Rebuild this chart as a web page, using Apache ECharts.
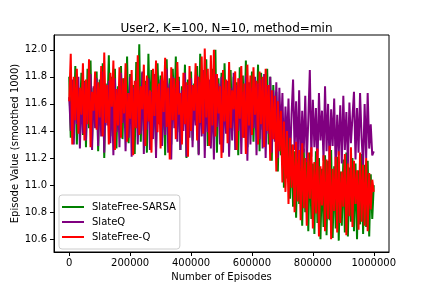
<!DOCTYPE html>
<html>
<head>
<meta charset="utf-8">
<script src="https://cdn.jsdelivr.net/npm/echarts@6/dist/echarts.min.js"></script>
<style>html,body{margin:0;padding:0;background:#fff;}#c{width:432px;height:288px;}</style>
</head>
<body>
<div id="c"></div>
<script>
// Episode grid: one sample every 5000 episodes, 0 .. 1000000
const STEP = 5000;
const seriesNames = ['SlateFree-SARSA', 'SlateQ', 'SlateFree-Q'];
const xTicks = [0, 200000, 400000, 600000, 800000, 1000000];
const yTicks = [10.6, 10.8, 11.0, 11.2, 11.4, 11.6, 11.8, 12.0];

const sarsa = [
11.80,11.35,11.74,11.46,11.88,11.30,11.70,11.52,11.83,11.37,
11.77,11.28,11.86,11.42,11.92,11.33,11.72,11.48,11.84,11.25,
11.78,11.40,11.90,11.20,11.75,11.51,11.96,11.36,11.80,11.45,
11.86,11.27,11.73,11.50,11.88,11.34,11.79,11.43,11.95,11.31,
11.82,11.54,11.74,11.23,11.91,11.47,12.04,11.32,11.83,11.40,
11.77,11.24,11.97,11.49,11.85,11.38,11.72,11.27,11.90,11.53,
11.81,11.35,11.76,11.22,11.93,11.44,11.79,11.30,11.86,11.50,
11.95,11.39,11.80,11.26,11.73,11.48,11.89,11.20,11.78,11.42,
11.84,11.33,11.75,11.52,11.88,11.23,11.97,11.45,11.82,11.36,
11.93,11.29,11.77,11.50,11.86,11.38,12.00,11.24,11.79,11.43,
11.83,11.31,11.90,11.47,11.74,11.26,11.85,11.40,11.80,11.52,
11.76,11.22,11.87,11.44,11.81,11.35,11.92,11.28,11.75,11.49,
11.84,11.32,11.78,11.46,11.89,11.25,11.83,11.41,11.76,11.36,
11.86,11.30,11.80,11.18,11.74,11.40,11.69,11.10,11.60,11.22,
11.48,10.98,11.38,11.05,11.42,10.90,11.30,10.84,11.25,10.76,
11.30,10.86,11.22,10.70,11.27,10.80,11.19,10.66,11.24,10.75,
11.16,10.64,11.25,10.72,11.20,10.60,11.12,10.69,11.22,10.63,
11.18,10.74,11.26,10.61,11.14,10.68,11.21,10.59,11.10,10.70,
11.19,10.65,11.24,10.62,11.13,10.73,11.20,10.66,11.16,10.60,
11.11,10.71,11.23,10.64,11.15,10.69,11.18,10.62,11.08,10.75,
11.00
];

const slateQ = [
11.65,11.40,11.78,11.30,11.72,11.45,11.80,11.27,11.70,11.38,
11.76,11.33,11.68,11.48,11.82,11.26,11.73,11.42,11.79,11.29,
11.70,11.36,11.84,11.24,11.74,11.44,11.77,11.31,11.69,11.22,
11.79,11.39,11.71,11.28,11.83,11.46,11.75,11.25,11.68,11.35,
11.80,11.21,11.72,11.43,11.77,11.30,11.70,11.38,11.84,11.23,
11.74,11.41,11.79,11.26,11.69,11.34,11.82,11.20,11.73,11.45,
11.78,11.29,11.71,11.37,11.86,11.24,11.75,11.19,11.80,11.42,
11.72,11.32,11.77,11.26,11.70,11.40,11.83,11.21,11.74,11.35,
11.79,11.28,11.68,11.44,11.81,11.22,11.76,11.36,11.85,11.20,
11.73,11.39,11.78,11.27,11.71,11.19,11.82,11.43,11.75,11.30,
11.80,11.24,11.70,11.38,11.77,11.21,11.72,11.33,11.83,11.26,
11.74,11.40,11.79,11.23,11.69,11.35,11.81,11.18,11.76,11.30,
11.72,11.42,11.80,11.22,11.75,11.34,11.78,11.27,11.82,11.20,
11.74,11.38,11.80,11.24,11.70,11.32,11.76,11.20,11.72,11.36,
11.68,11.18,11.58,11.30,11.64,11.15,11.52,11.78,11.26,11.62,
11.19,11.70,11.13,11.55,11.24,11.66,11.17,11.48,11.85,11.21,
11.63,11.28,11.57,11.12,11.68,11.33,11.55,11.18,11.73,11.25,
11.60,11.14,11.56,11.29,11.64,11.11,11.52,11.22,11.59,11.16,
11.66,11.26,11.54,11.15,11.61,11.31,11.50,11.69,11.19,11.57,
11.24,11.68,11.35,11.14,11.60,11.20,11.68,11.27,11.45,11.22,
11.25
];

const slateFreeQ = [
11.62,11.97,11.30,11.80,11.48,11.86,11.38,11.72,11.52,11.90,
11.33,11.78,11.45,11.93,11.28,11.69,11.55,11.84,11.41,11.76,
11.50,11.88,11.36,11.98,11.46,11.74,11.30,11.83,11.58,11.92,
11.26,11.71,11.44,11.87,11.35,11.79,11.53,11.90,11.32,11.68,
11.49,11.85,11.22,11.77,11.42,11.96,11.37,11.73,11.56,11.89,
11.29,11.81,11.47,11.70,11.24,11.86,11.51,11.92,11.39,11.75,
11.27,11.84,11.54,11.94,11.43,11.72,11.19,11.87,11.48,11.79,
11.34,11.91,11.52,11.68,11.30,11.83,11.45,11.76,11.21,11.88,
11.40,11.74,11.55,11.90,11.33,11.80,11.46,11.95,11.38,12.01,
11.50,11.86,11.29,11.96,11.44,12.00,11.36,11.82,11.53,11.73,
11.20,11.85,11.47,11.78,11.31,11.91,11.42,11.70,11.56,11.84,
11.26,11.79,11.49,11.88,11.35,11.75,11.23,11.89,11.44,11.81,
11.37,11.87,11.52,11.77,11.30,11.84,11.45,11.80,11.28,11.86,
11.40,11.74,11.18,11.70,11.34,11.66,11.10,11.62,11.25,11.55,
11.02,11.47,10.95,11.40,10.86,11.35,10.98,11.30,10.80,11.32,
10.88,11.26,10.74,11.31,10.83,11.20,10.70,11.24,10.90,11.28,
10.68,11.17,10.79,11.27,10.62,11.14,10.85,11.22,10.66,11.19,
10.75,11.29,10.60,11.12,10.81,11.21,10.65,11.25,10.72,11.10,
10.84,11.23,10.63,11.16,10.77,11.28,10.69,11.18,10.86,11.11,
10.67,11.24,10.73,11.15,10.70,11.20,10.66,11.09,10.82,11.04,
10.95
];

const colors = ['#008000', '#800080', '#ff0000'];
const values = [sarsa, slateQ, slateFreeQ];
const toPairs = arr => arr.map((v, i) => [i * STEP, v]);

const chart = echarts.init(document.getElementById('c'), null, {renderer: 'canvas'});
const font = 'DejaVu Sans';
chart.setOption({
  animation: false,
  title: {
    text: 'User2, K=100, N=10, method=min',
    left: 221.5, top: 18, textAlign: 'center',
    textStyle: {fontFamily: font, fontSize: 12, fontWeight: 'normal', color: '#000'}
  },
  grid: {left: 54, right: 43, top: 35, bottom: 36, show: true, borderColor: '#000', borderWidth: 1,
    backgroundColor: 'transparent', outerBoundsMode: 'none', containLabel: false},
  legend: {
    orient: 'vertical', left: 59, top: 195,
    data: seriesNames,
    icon: 'rect', itemWidth: 22, itemHeight: 2, itemGap: 3,
    padding: [6, 4, 6, 3],
    backgroundColor: 'rgba(255,255,255,0.8)', borderColor: '#cccccc', borderWidth: 1, borderRadius: 3,
    textStyle: {fontFamily: font, fontSize: 10, color: '#000', lineHeight: 12, padding: [0, 0, 0, 3]}
  },
  xAxis: {
    type: 'value', min: -50000, max: 1050000,
    name: 'Number of Episodes', nameLocation: 'middle', nameGap: 20, nameMoveOverlap: false,
    nameTextStyle: {fontFamily: font, fontSize: 10, color: '#000'},
    axisLine: {show: true, onZero: false, lineStyle: {color: '#000', width: 1}},
    axisTick: {show: true, length: 4, customValues: xTicks, lineStyle: {color: '#000'}},
    axisLabel: {customValues: xTicks, margin: 6, fontFamily: font, fontSize: 10, color: '#000',
      formatter: v => String(Math.round(v))},
    splitLine: {show: false}
  },
  yAxis: {
    type: 'value', min: 10.506, max: 12.109,
    name: 'Episode Value (smoothed 1000)', nameLocation: 'middle', nameGap: 34, nameMoveOverlap: false,
    nameTextStyle: {fontFamily: font, fontSize: 10, color: '#000'},
    axisLine: {show: true, onZero: false, lineStyle: {color: '#000', width: 1}},
    axisTick: {show: true, length: 4, customValues: yTicks, lineStyle: {color: '#000'}},
    axisLabel: {customValues: yTicks, margin: 7, fontFamily: font, fontSize: 10, color: '#000',
      formatter: v => v.toFixed(1)},
    splitLine: {show: false}
  },
  series: seriesNames.map((n, k) => ({
    name: n, type: 'line', data: toPairs(values[k]), showSymbol: false, symbol: 'none',
    lineStyle: {color: colors[k], width: 2}, itemStyle: {color: colors[k]},
    z: 2 + k
  }))
});
</script>
</body>
</html>
